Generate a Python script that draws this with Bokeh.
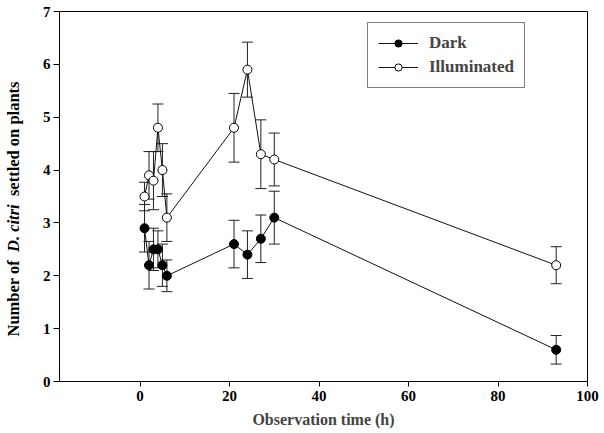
from bokeh.plotting import figure
from bokeh.layouts import row
from bokeh.models import ColumnDataSource, Whisker, TeeHead, FixedTicker, Range1d, Legend, LegendItem, Div
from bokeh.embed import file_html
from bokeh.resources import INLINE

# Data
time_h = [1, 2, 3, 4, 5, 6, 21, 24, 27, 30, 93]
dark_mean = [2.9, 2.2, 2.5, 2.5, 2.2, 2.0, 2.6, 2.4, 2.7, 3.1, 0.6]
dark_se = [0.45, 0.45, 0.4, 0.35, 0.4, 0.3, 0.45, 0.45, 0.45, 0.5, 0.27]
illum_mean = [3.5, 3.9, 3.8, 4.8, 4.0, 3.1, 4.8, 5.9, 4.3, 4.2, 2.2]
illum_se = [0.27, 0.45, 0.55, 0.45, 0.5, 0.45, 0.65, 0.52, 0.65, 0.5, 0.35]
x_ticks = [0, 20, 40, 60, 80, 100]
y_ticks = [0, 1, 2, 3, 4, 5, 6, 7]
series_names = ["Dark", "Illuminated"]

FONT = "Liberation Serif"
DIV_W = 30

p = figure(frame_width=528, frame_height=370, output_backend="svg", toolbar_location=None,
           x_range=Range1d(-18, 100), y_range=Range1d(0, 7),
           min_border_left=59 - DIV_W, min_border_top=11, min_border_right=17, min_border_bottom=52)
p.background_fill_color = "white"
p.border_fill_color = "white"
p.outline_line_color = "black"
p.outline_line_width = 1
p.grid.visible = False

for ax in (p.xaxis[0], p.yaxis[0]):
    ax.axis_line_color = "black"
    ax.major_tick_line_color = "black"
    ax.major_tick_in = 0
    ax.minor_tick_line_color = None
    ax.major_label_text_font = FONT
    ax.major_label_text_font_style = "bold"
    ax.major_label_text_font_size = "15px"
    ax.major_label_text_color = "black"

p.xaxis[0].ticker = FixedTicker(ticks=x_ticks)
p.yaxis[0].ticker = FixedTicker(ticks=y_ticks)
p.xaxis[0].major_tick_out = 5
p.yaxis[0].major_tick_out = 6
p.xaxis[0].major_label_standoff = 4
p.yaxis[0].major_label_standoff = 3

p.xaxis[0].axis_label = "Observation time (h)"
p.xaxis[0].axis_label_text_font = FONT
p.xaxis[0].axis_label_text_font_style = "bold"
p.xaxis[0].axis_label_text_font_size = "16px"
p.xaxis[0].axis_label_standoff = 7

def add_series(mean, se, fill):
    src = ColumnDataSource(dict(x=time_h, y=mean,
                                lower=[m - s for m, s in zip(mean, se)],
                                upper=[m + s for m, s in zip(mean, se)]))
    w = Whisker(base="x", lower="lower", upper="upper", source=src,
                line_color="#222222", line_width=1,
                upper_head=TeeHead(size=11, line_color="#222222", line_width=1),
                lower_head=TeeHead(size=11, line_color="#222222", line_width=1))
    w.level = "underlay"
    p.add_layout(w)
    ln = p.line("x", "y", source=src, line_color="#111111", line_width=1)
    sc = p.scatter("x", "y", source=src, size=9, marker="circle",
                   fill_color=fill, line_color="black", line_width=1)
    return ln, sc

dl, ds = add_series(dark_mean, dark_se, "black")
il, isc = add_series(illum_mean, illum_se, "white")

legend = Legend(items=[LegendItem(label=series_names[0], renderers=[dl, ds]),
                       LegendItem(label=series_names[1], renderers=[il, isc])],
                location=(308, 293))
legend.border_line_color = "black"
legend.border_line_width = 1
legend.background_fill_color = "white"
legend.label_text_font = FONT
legend.label_text_font_style = "bold"
legend.label_text_font_size = "17px"
legend.glyph_width = 40
legend.glyph_height = 18
legend.label_height = 18
legend.label_standoff = 11
legend.spacing = 4
legend.padding = 10
legend.margin = 0
p.add_layout(legend)

# y-axis title with the italic species name (HTML, rotated)
ylabel_html = (
    '<div style="position:relative;width:%dpx;height:433px;background:white;">'
    '<div style="position:absolute;left:14px;top:209px;'
    'transform:translate(-50%%,-50%%) rotate(-90deg);white-space:nowrap;'
    "font-family:'Liberation Serif',serif;font-weight:bold;font-size:16.5px;"
    'line-height:1;color:black;">'
    'Number of&nbsp; <i>D. citri</i>&nbsp; settled on plants</div></div>' % DIV_W
)
div = Div(text=ylabel_html, width=DIV_W, height=433, margin=0)

layout = row(div, p, spacing=0)
open("out.html", "w").write(file_html(layout, INLINE))
